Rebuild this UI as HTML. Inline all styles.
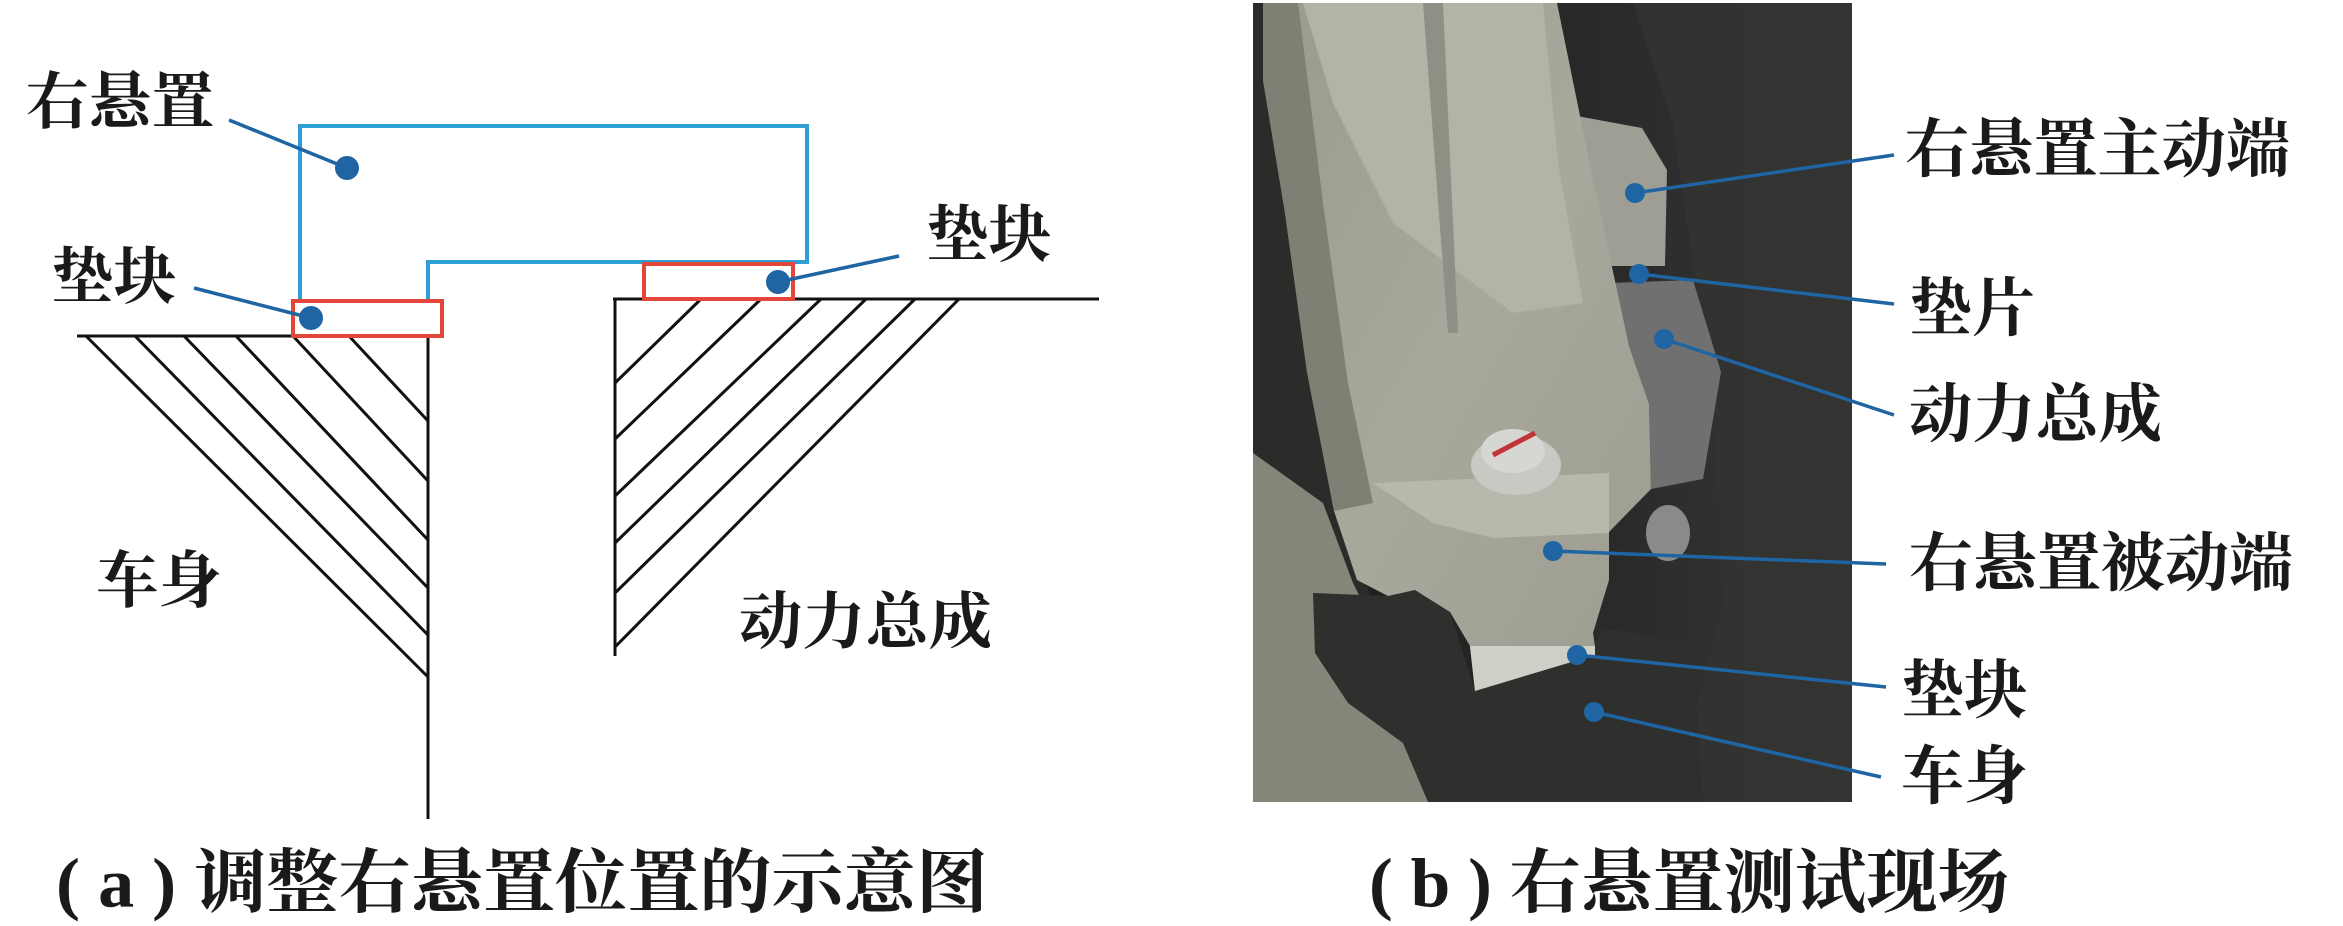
<!DOCTYPE html>
<html><head><meta charset="utf-8"><style>
html,body{margin:0;padding:0;background:#fff;}
svg{display:block;}
text{font-family:"Liberation Serif","Noto Serif CJK SC",serif;font-weight:bold;fill:#1a1a1a;}
</style></head><body>
<svg width="2343" height="926" viewBox="0 0 2343 926" xmlns="http://www.w3.org/2000/svg">
<rect width="2343" height="926" fill="#fff"/>
<!-- LEFT DIAGRAM -->
<g stroke="#111" stroke-width="3" fill="none">
<line x1="77" y1="336" x2="430" y2="336"/>
<line x1="428" y1="336" x2="428" y2="819"/>
<line x1="86" y1="336" x2="428" y2="677"/>
<line x1="135" y1="336" x2="428" y2="635"/>
<line x1="184" y1="336" x2="428" y2="588"/>
<line x1="236" y1="336" x2="428" y2="540"/>
<line x1="293" y1="336" x2="428" y2="481"/>
<line x1="349" y1="336" x2="428" y2="421"/>
<line x1="613" y1="299" x2="1099" y2="299"/>
<line x1="615" y1="299" x2="615" y2="656"/>
<line x1="959" y1="299" x2="615" y2="647"/>
<line x1="701" y1="299" x2="615" y2="383"/>
<line x1="761" y1="299" x2="615" y2="439"/>
<line x1="821" y1="299" x2="615" y2="496"/>
<line x1="866" y1="299" x2="615" y2="543"/>
<line x1="915" y1="299" x2="615" y2="593"/>
</g>
<polyline points="300,301 300,126 807,126 807,262 428,262 428,301" fill="none" stroke="#2e9fd4" stroke-width="4"/>
<rect x="293" y="301" width="149" height="35" fill="none" stroke="#e2473a" stroke-width="4"/>
<rect x="644" y="264" width="149" height="35" fill="none" stroke="#e2473a" stroke-width="4"/>
<g stroke="#1f64a3" stroke-width="3.5">
<line x1="229" y1="120" x2="347" y2="168"/>
<line x1="194" y1="288" x2="311" y2="318"/>
<line x1="899" y1="256" x2="778" y2="282"/>
</g>
<g fill="#1f64a3">
<ellipse cx="347" cy="168" rx="12" ry="12"/>
<ellipse cx="311" cy="318" rx="12" ry="12"/>
<ellipse cx="778" cy="282" rx="12" ry="12"/>
</g>
<g font-size="62" dominant-baseline="central">
<text x="26" y="103" textLength="188" lengthAdjust="spacingAndGlyphs">右悬置</text>
<text x="51" y="278" textLength="125" lengthAdjust="spacingAndGlyphs">垫块</text>
<text x="926" y="236" textLength="125" lengthAdjust="spacingAndGlyphs">垫块</text>
<text x="96" y="582" textLength="125" lengthAdjust="spacingAndGlyphs">车身</text>
<text x="739" y="623" textLength="253" lengthAdjust="spacingAndGlyphs">动力总成</text>
</g>
<text x="56" y="884" font-size="70" dominant-baseline="central" textLength="932" lengthAdjust="spacingAndGlyphs">( a ) 调整右悬置位置的示意图</text>

<!-- PHOTO -->
<defs>
<linearGradient id="bg" x1="0" y1="0" x2="1" y2="0">
<stop offset="0" stop-color="#1c1c1c"/><stop offset="0.6" stop-color="#2a2a2a"/><stop offset="1" stop-color="#383838"/>
</linearGradient>
<linearGradient id="br" x1="0" y1="0" x2="1" y2="1">
<stop offset="0" stop-color="#9a9a8e"/><stop offset="0.5" stop-color="#a8a89c"/><stop offset="1" stop-color="#9c9c90"/>
</linearGradient>
<clipPath id="pc"><rect x="0" y="0" width="599" height="799"/></clipPath>
</defs>
<g transform="translate(1253,3)" clip-path="url(#pc)">
<rect width="599" height="799" fill="url(#bg)"/>
<path d="M380,0 L599,0 L599,799 L420,799 L470,600 L460,380 L440,260 L420,120 Z" fill="#333331" opacity="0.8"/>
<path d="M0,0 L30,0 L60,360 L90,520 L120,600 L90,799 L0,799 Z" fill="#2b2b29"/>
<path d="M0,450 L70,500 L100,580 L130,640 L175,799 L0,799 Z" fill="#858579"/>
<path d="M313,111 L389,125 L414,167 L412,263 L345,263 L340,226 L313,157 Z" fill="#9e9e95"/>
<path d="M356,280 L440,277 L468,369 L450,476 L398,486 L396,401 L376,343 Z" fill="#707070"/>
<path d="M60,590 L135,593 L162,587 L197,609 L222,688 L342,643 L350,625 L440,640 L450,799 L175,799 L150,740 L95,700 L62,650 Z" fill="#2f2f2d"/>
<path d="M10,0 L304,0 L336,157 L376,343 L396,401 L398,486 L356,529 L356,577 L340,630 L342,643 L222,688 L217,643 L197,609 L162,587 L135,593 L104,577 L81,508 L54,369 L32,210 L10,77 Z" fill="url(#br)"/>
<path d="M10,0 L45,0 L70,200 L95,380 L120,500 L81,508 L54,369 L32,210 L10,77 Z" fill="#7f7f74"/>
<path d="M50,0 L290,0 L305,160 L330,300 L260,310 L140,220 L80,100 Z" fill="#b3b3a6"/>
<path d="M170,0 L190,0 L205,330 L195,330 Z" fill="#8f8f85"/>
<path d="M120,480 L356,470 L356,530 L240,535 L180,520 Z" fill="#b8b8ac"/>
<ellipse cx="263" cy="462" rx="45" ry="30" fill="#c9c9c3"/>
<ellipse cx="260" cy="448" rx="32" ry="22" fill="#d6d6d2"/>
<line x1="240" y1="452" x2="282" y2="430" stroke="#c0343a" stroke-width="5"/>
<path d="M217,643 L342,643 L342,652 L222,688 Z" fill="#cfcfc8"/>
<ellipse cx="415" cy="530" rx="22" ry="28" fill="#8a8a88"/>
</g>
<g stroke="#1f64a3" stroke-width="3.5">
<line x1="1635" y1="193" x2="1894" y2="155"/>
<line x1="1639" y1="274" x2="1894" y2="304"/>
<line x1="1664" y1="339" x2="1894" y2="415"/>
<line x1="1553" y1="551" x2="1886" y2="564"/>
<line x1="1577" y1="655" x2="1886" y2="687"/>
<line x1="1594" y1="712" x2="1881" y2="777"/>
</g>
<g fill="#1f64a3">
<circle cx="1635" cy="193" r="10"/><circle cx="1639" cy="274" r="10"/><circle cx="1664" cy="339" r="10"/>
<circle cx="1553" cy="551" r="10"/><circle cx="1577" cy="655" r="10"/><circle cx="1594" cy="712" r="10"/>
</g>
<g font-size="64" dominant-baseline="central">
<text x="1905" y="150" textLength="385" lengthAdjust="spacingAndGlyphs">右悬置主动端</text>
<text x="1909" y="309" textLength="126" lengthAdjust="spacingAndGlyphs">垫片</text>
<text x="1909" y="415" textLength="253" lengthAdjust="spacingAndGlyphs">动力总成</text>
<text x="1909" y="564" textLength="384" lengthAdjust="spacingAndGlyphs">右悬置被动端</text>
<text x="1901" y="691" textLength="126" lengthAdjust="spacingAndGlyphs">垫块</text>
<text x="1901" y="777" textLength="126" lengthAdjust="spacingAndGlyphs">车身</text>
</g>
<text x="1369" y="884" font-size="70" dominant-baseline="central" textLength="640" lengthAdjust="spacingAndGlyphs">( b ) 右悬置测试现场</text>
</svg>
</body></html>
